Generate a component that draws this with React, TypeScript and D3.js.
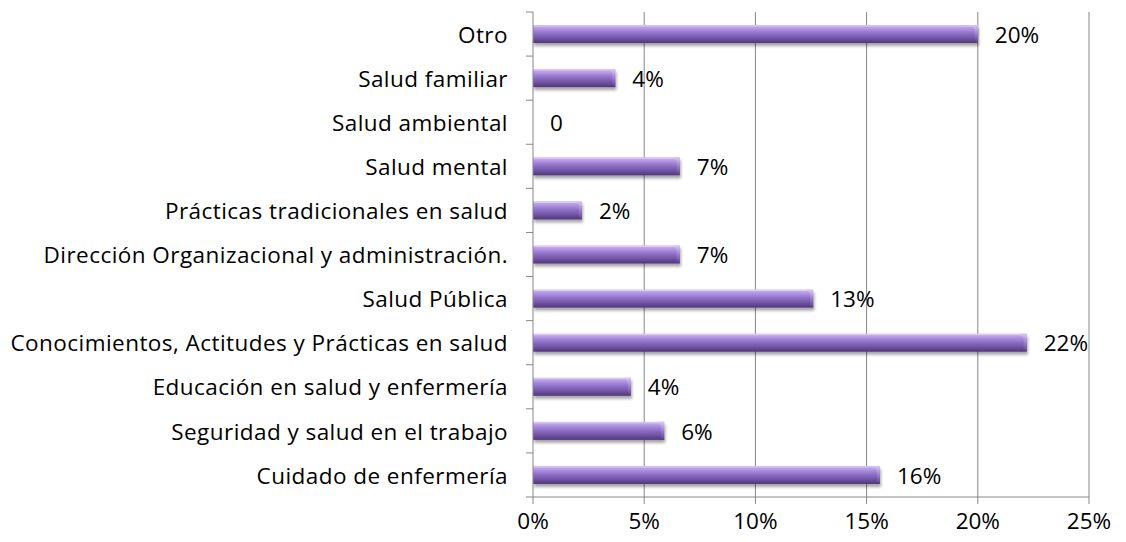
import * as d3 from 'd3';

const categories = [
    'Otro',
    'Salud familiar',
    'Salud ambiental',
    'Salud mental',
    'Prácticas tradicionales en salud',
    'Dirección Organizacional y administración.',
    'Salud Pública',
    'Conocimientos, Actitudes y Prácticas en salud',
    'Educación en salud y enfermería',
    'Seguridad y salud en el trabajo',
    'Cuidado de enfermería',
];
const values = [20.0, 3.7, 0, 6.6, 2.2, 6.6, 12.6, 22.2, 4.4, 5.9, 15.6];
const valueLabels = ['20%', '4%', '0', '7%', '2%', '7%', '13%', '22%', '4%', '6%', '16%'];
const xTicks = [0, 5, 10, 15, 20, 25];

const W = 1126;
const H = 542;
const FONT = '"Open Sans", Lato, sans-serif';
const FS = 22.5;

export default function App() {
    const margin = { top: 12, right: 37, bottom: 45, left: 533 };
    const x = d3.scaleLinear().domain([0, 25]).range([margin.left, W - margin.right]);
    const y = d3.scaleBand()
        .domain(categories)
        .range([margin.top, H - margin.bottom])
        .paddingInner(0.59)
        .paddingOuter(0.295);
    const step = y.step();
    const y0 = margin.top;
    const yEnd = H - margin.bottom;
    const bounds = d3.range(categories.length + 1).map(i => y0 + i * step);
    const axisColor = '#878787';
    const base = (c: string) => y(c)! + y.bandwidth() / 2 + FS * 0.36 + 0.6;

    return (
        <div style={{ position: 'fixed', left: 0, top: 0 }}>
            <svg width={W} height={H} style={{ display: 'block', background: '#fff' }}>
                <defs>
                    <linearGradient id="barGrad" x1="0" y1="0" x2="0" y2="1">
                        <stop offset="0%" stopColor="#cbb6f0" />
                        <stop offset="20%" stopColor="#b396e6" />
                        <stop offset="45%" stopColor="#9072c8" />
                        <stop offset="75%" stopColor="#6f52a2" />
                        <stop offset="100%" stopColor="#4f3777" />
                    </linearGradient>
                    <linearGradient id="capGrad" x1="0" y1="0" x2="0" y2="1">
                        <stop offset="0%" stopColor="#d9c8f5" />
                        <stop offset="50%" stopColor="#9b7fd0" />
                        <stop offset="100%" stopColor="#5b4087" />
                    </linearGradient>
                    <filter id="shadow" x="-5%" y="-40%" width="110%" height="200%">
                        <feGaussianBlur in="SourceAlpha" stdDeviation="1.8" />
                        <feOffset dx="1" dy="2.5" result="off" />
                        <feComponentTransfer>
                            <feFuncA type="linear" slope="0.35" />
                        </feComponentTransfer>
                        <feMerge>
                            <feMergeNode />
                            <feMergeNode in="SourceGraphic" />
                        </feMerge>
                    </filter>
                </defs>

                {/* grid lines */}
                {xTicks.slice(1).map(t => (
                    <line key={'g' + t} x1={x(t)} x2={x(t)} y1={y0} y2={yEnd} stroke={axisColor} strokeWidth={1} />
                ))}

                {/* bars */}
                {categories.map((c, i) => {
                    const v = values[i];
                    if (v <= 0) return null;
                    const bx = x(0);
                    const by = y(c)!;
                    const bw = x(v) - x(0);
                    const bh = y.bandwidth();
                    return (
                        <g key={c} filter="url(#shadow)">
                            <rect x={bx} y={by} width={bw} height={bh} fill="url(#barGrad)" />
                            <line x1={bx} x2={bx + bw - 4} y1={by + 1} y2={by + 1} stroke="#e2d5f8" strokeOpacity={0.8} />
                            <polygon
                                points={`${bx + bw - 7},${by} ${bx + bw},${by} ${bx + bw},${by + bh} ${bx + bw - 3},${by + bh - 3} ${bx + bw - 3},${by + 4}`}
                                fill="url(#capGrad)"
                            />
                        </g>
                    );
                })}

                {/* y axis */}
                <line x1={x(0)} x2={x(0)} y1={y0} y2={yEnd} stroke={axisColor} strokeWidth={1} />
                {bounds.map((b, i) => (
                    <line key={'yt' + i} x1={x(0) - 7} x2={x(0)} y1={b} y2={b} stroke={axisColor} strokeWidth={1} />
                ))}

                {/* x axis */}
                <line x1={x(0)} x2={x(25)} y1={yEnd} y2={yEnd} stroke={axisColor} strokeWidth={1} />
                {xTicks.map(t => (
                    <g key={'xt' + t}>
                        <line x1={x(t)} x2={x(t)} y1={yEnd} y2={yEnd + 7} stroke={axisColor} strokeWidth={1} />
                        <text x={x(t)} y={yEnd + 24 + FS * 0.36} textAnchor="middle"
                            fontFamily={FONT} fontSize={FS} fill="#000">{t + '%'}</text>
                    </g>
                ))}

                {/* category labels */}
                {categories.map(c => (
                    <text key={'l' + c} x={x(0) - 25} y={base(c)} textAnchor="end" letterSpacing={0.45}
                        fontFamily={FONT} fontSize={FS} fill="#000">{c}</text>
                ))}

                {/* value labels */}
                {categories.map((c, i) => (
                    <text key={'v' + c} x={x(values[i]) + 17} y={base(c)}
                        fontFamily={FONT} fontSize={FS} fill="#000">{valueLabels[i]}</text>
                ))}
            </svg>
        </div>
    );
}
